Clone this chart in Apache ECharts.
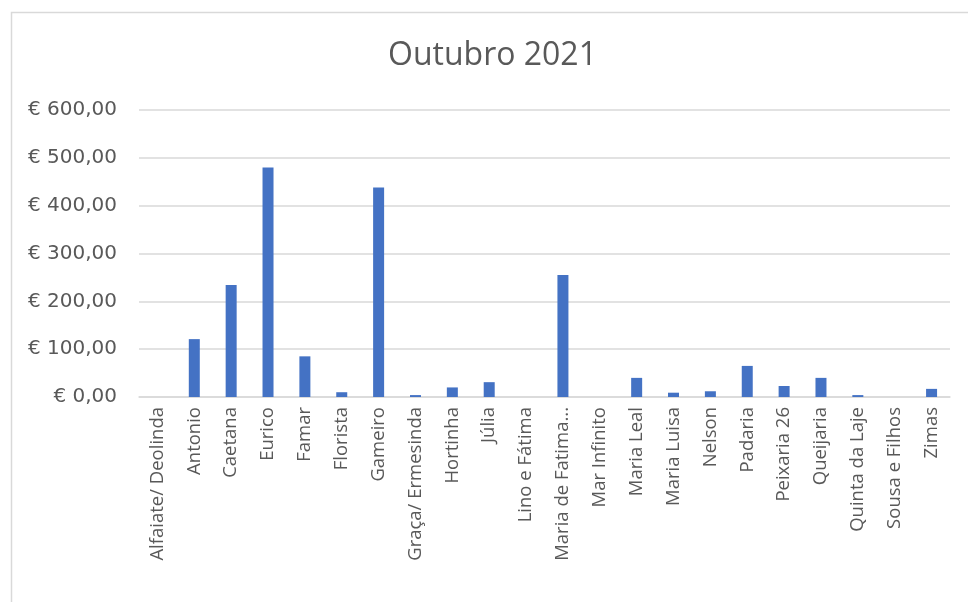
<!DOCTYPE html>
<html>
<head>
<meta charset="utf-8">
<script src="https://cdn.jsdelivr.net/npm/echarts@6/dist/echarts.min.js"></script>
<style>
  * { margin: 0; padding: 0; }
  html, body { width: 968px; height: 602px; background: #fff; overflow: hidden; }
  #chart { width: 968px; height: 602px; }
</style>
</head>
<body>
<div id="chart"></div>
<script>
// clientes (eixo x)
var clientes = [
  "Alfaiate/ Deolinda", "Antonio", "Caetana", "Eurico", "Famar", "Florista",
  "Gameiro", "Graça/ Ermesinda", "Hortinha", "Júlia", "Lino e Fátima",
  "Maria de Fatima...", "Mar Infinito", "Maria Leal", "Maria Luisa", "Nelson",
  "Padaria", "Peixaria 26", "Queijaria", "Quinta da Laje", "Sousa e Filhos", "Zimas"
];
// valores em euros
var valores = [
  0, 121, 234, 480, 85, 10,
  438, 4, 20, 31, 0,
  255, 0, 40, 9, 12,
  65, 23, 40, 4, 0, 17
];
var titulo = "Outubro 2021";
var eixoY = { min: 0, max: 600, passo: 100 };

var chart = echarts.init(document.getElementById("chart"));

var option = {
  backgroundColor: "#fff",
  animation: false,
  title: {
    text: titulo,
    left: 388,
    top: 40,
    padding: 0,
    textStyle: {
      fontFamily: "Open Sans",
      fontSize: 32,
      fontWeight: "normal",
      color: "#595959"
    }
  },
  // moldura do gráfico (só cima e esquerda visíveis)
  graphic: [
    {
      type: "rect",
      left: 9,
      top: 10,
      shape: { width: 1100, height: 800 },
      style: { fill: "none", stroke: "#d9d9d9", lineWidth: 1.5 },
      silent: true
    }
  ],
  grid: {
    left: 139,
    right: 18,
    top: 110,
    bottom: 205
  },
  xAxis: {
    type: "category",
    data: clientes,
    axisLine: { show: true, lineStyle: { color: "#d9d9d9", width: 1.5 } },
    axisTick: { show: false },
    axisLabel: {
      interval: 0,
      rotate: 90,
      margin: 10,
      fontFamily: "Open Sans",
      fontSize: 18.5,
      color: "#595959"
    }
  },
  yAxis: {
    type: "value",
    min: eixoY.min,
    max: eixoY.max,
    interval: eixoY.passo,
    axisLine: { show: false },
    axisTick: { show: false },
    splitLine: { lineStyle: { color: "#d9d9d9", width: 1.5 } },
    axisLabel: {
      margin: 22,
      fontFamily: "DejaVu Sans",
      fontSize: 20,
      color: "#595959",
      formatter: function (v) {
        return "€ " + v.toFixed(2).replace(".", ",");
      }
    }
  },
  series: [
    {
      type: "bar",
      data: valores,
      barWidth: 11,
      itemStyle: { color: "#4472C4" }
    }
  ]
};

chart.setOption(option);
</script>
</body>
</html>
